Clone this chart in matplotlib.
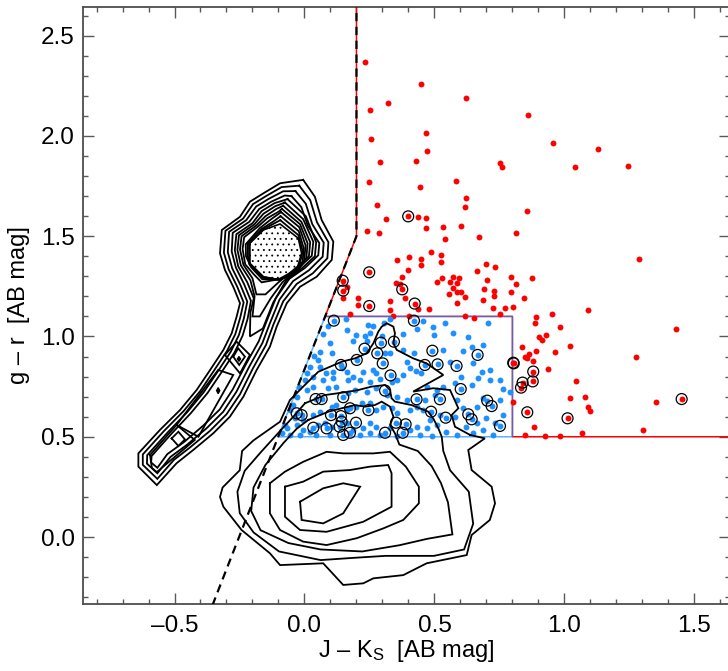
import matplotlib
matplotlib.use("Agg")
import matplotlib.pyplot as plt
from matplotlib.patches import Polygon
from matplotlib.ticker import MultipleLocator, FuncFormatter

plt.rcParams['font.family'] = ['Liberation Sans', 'DejaVu Sans']
plt.rcParams['mathtext.fontset'] = 'custom'
plt.rcParams['mathtext.rm'] = 'Liberation Sans'
plt.rcParams['mathtext.it'] = 'Liberation Sans:italic'
plt.rcParams['lines.scale_dashes'] = False
plt.rcParams['hatch.linewidth'] = 0.6

# colour cuts
cut_x = [0.2, 0.2, -0.36]
cut_y = [2.8, 1.5, -0.36]
red_edge_x = [0.2, 0.2, 0.0795, 0.8, 0.8, 1.8]
red_edge_y = [2.8, 1.5, 1.1, 1.1, 0.5, 0.5]
blue_box_x = [-0.101, 0.0795, 0.8, 0.8, -0.101]
blue_box_y = [0.5, 1.1, 1.1, 0.5, 0.5]

# red selected objects
red_x = [0.233, 0.449, 0.622, 0.321, 0.253, 0.858, 0.257, 0.467, 0.472, 0.292,
         0.429, 0.751, 0.760, 0.957, 1.039, 1.128, 1.245, 0.248, 0.584, 0.443,
         0.278, 0.620, 0.619, 0.857, 0.315, 0.437, 0.469, 0.467, 0.239, 0.288,
         0.533, 0.604, 0.539, 0.671, 0.815, 1.287, 0.485, 0.525, 0.355, 0.403,
         0.447, 0.447, 0.525, 0.397, 0.698, 0.734, 0.663, 0.374, 0.530, 0.571,
         0.595, 0.585, 0.510, 0.558, 0.793, 0.876, 0.703, 0.162, 0.352, 0.367,
         0.385, 0.572, 0.588, 0.601, 0.557, 0.689, 0.730, 0.812, 0.793, 0.617,
         0.688, 0.729, 0.843, 0.147, 0.204, 0.207, 0.330, 0.330, 0.438, 0.478,
         0.585, 0.724, 0.770, 0.804, 0.754, 0.892, 0.952, 1.090, 0.174, 0.342,
         0.403, 0.619, 0.652, 0.886, 0.984, 1.428, 0.901, 0.928, 0.913, 0.835,
         1.021, 0.892, 0.862, 0.847, 0.856, 0.965, 1.275, 0.881, 0.935, 1.043,
         0.803, 1.020, 1.081, 1.089, 1.098, 1.353, 0.883, 1.302, 1.069, 0.849,
         0.924, 0.983]
red_y = [2.367, 2.259, 2.191, 2.166, 2.131, 2.106, 1.983, 2.015, 1.925, 1.872,
         1.874, 1.867, 1.844, 1.967, 1.844, 1.935, 1.851, 1.770, 1.777, 1.746,
         1.656, 1.691, 1.644, 1.626, 1.584, 1.596, 1.589, 1.539, 1.528, 1.518,
         1.544, 1.553, 1.485, 1.495, 1.515, 1.388, 1.423, 1.408, 1.380, 1.397,
         1.385, 1.357, 1.373, 1.333, 1.363, 1.347, 1.327, 1.297, 1.290, 1.295,
         1.293, 1.268, 1.273, 1.273, 1.295, 1.290, 1.283, 1.245, 1.265, 1.262,
         1.192, 1.240, 1.220, 1.220, 1.212, 1.239, 1.227, 1.260, 1.220, 1.197,
         1.182, 1.200, 1.192, 1.194, 1.192, 1.155, 1.175, 1.132, 1.136, 1.136,
         1.165, 1.144, 1.144, 1.146, 1.111, 1.096, 1.114, 1.132, 1.111, 1.102,
         1.102, 1.104, 1.091, 1.067, 1.049, 1.037, 0.999, 1.006, 0.984, 0.946,
         0.954, 0.929, 0.914, 0.899, 0.891, 0.923, 0.898, 0.879, 0.836, 0.778,
         0.673, 0.693, 0.696, 0.647, 0.630, 0.673, 0.549, 0.534, 0.517, 0.507,
         0.504, 0.505]

# blue selected objects
blue_x = [0.159, 0.245, 0.264, 0.305, 0.329, 0.457, 0.495, 0.540, 0.570, 0.630,
          0.707, 0.164, 0.200, 0.232, 0.252, 0.300, 0.380, 0.431, 0.499, 0.688,
          0.098, 0.059, 0.104, 0.188, 0.241, 0.053, 0.021, 0.002, 0.059, 0.082,
          0.111, 0.143, 0.162, 0.188, 0.226, 0.264, 0.277, 0.309, 0.329, 0.380,
          0.393, 0.421, 0.405, 0.429, 0.450, 0.380, 0.335, 0.354, 0.290, 0.252,
          0.213, 0.168, 0.111, 0.072, 0.034, 0.534, 0.559, 0.608, 0.643, 0.681,
          0.713, 0.752, 0.764, 0.713, 0.668, 0.643, 0.604, 0.579, 0.534, 0.508,
          0.470, 0.649, 0.008, 0.034, 0.091, 0.123, 0.168, 0.194, 0.239, 0.277,
          0.316, 0.354, 0.393, 0.463, 0.502, 0.585, 0.611, 0.662, 0.688, 0.752,
          0.764, 0.790, -0.056, -0.037, -0.005, 0.034, 0.059, 0.104, 0.123, 0.162,
          0.200, 0.220, 0.252, 0.277, 0.303, 0.335, 0.354, 0.405, 0.431, 0.457,
          0.482, 0.521, 0.579, 0.623, 0.662, 0.700, 0.732, -0.069, -0.030, -0.005,
          0.021, 0.053, 0.079, 0.104, 0.162, 0.188, 0.226, 0.252, 0.277, 0.329,
          0.405, 0.431, 0.470, 0.508, 0.546, 0.585, 0.649, 0.688, 0.726, -0.088,
          -0.056, -0.018, 0.046, 0.098, 0.213, 0.252, 0.290, 0.354, 0.444, 0.489,
          0.035, 0.070, 0.090, -0.030, -0.020, 0.010, -0.075, -0.045]
blue_y = [1.087, 1.057, 1.052, 1.069, 1.086, 1.079, 1.049, 1.069, 1.016, 0.996,
          1.066, 1.032, 1.007, 1.004, 1.016, 1.002, 1.012, 1.036, 1.007, 0.958,
          0.966, 0.924, 0.919, 0.979, 0.976, 0.883, 0.849, 0.783, 0.849, 0.816,
          0.825, 0.841, 0.825, 0.800, 0.825, 0.833, 0.820, 0.916, 0.916, 0.933,
          0.874, 0.916, 0.841, 0.830, 0.816, 0.808, 0.775, 0.783, 0.786, 0.775,
          0.783, 0.783, 0.791, 0.783, 0.800, 0.933, 0.874, 0.929, 0.949, 0.825,
          0.833, 0.783, 0.736, 0.783, 0.791, 0.758, 0.800, 0.766, 0.750, 0.733,
          0.750, 0.866, 0.733, 0.750, 0.741, 0.750, 0.716, 0.733, 0.725, 0.741,
          0.708, 0.700, 0.683, 0.683, 0.708, 0.683, 0.642, 0.650, 0.692, 0.683,
          0.608, 0.725, 0.633, 0.592, 0.583, 0.608, 0.625, 0.650, 0.658, 0.633,
          0.650, 0.667, 0.667, 0.633, 0.650, 0.642, 0.617, 0.633, 0.650, 0.633,
          0.583, 0.608, 0.600, 0.550, 0.567, 0.592, 0.567, 0.542, 0.559, 0.534,
          0.525, 0.559, 0.567, 0.550, 0.567, 0.534, 0.542, 0.567, 0.550, 0.542,
          0.534, 0.550, 0.542, 0.559, 0.525, 0.509, 0.517, 0.534, 0.509, 0.517,
          0.509, 0.509, 0.509, 0.509, 0.509, 0.517, 0.509, 0.504, 0.509, 0.504,
          0.905, 1.010, 1.050, 0.700, 0.750, 0.820, 0.560, 0.660]

# objects with a counterpart (ringed)
ring_red_x = [0.399, 0.249, 0.147, 0.149, 0.376, 0.249, 0.424, 0.803, 0.805,
              0.880, 0.878, 0.839, 0.833, 1.451, 0.857, 1.012]
ring_red_y = [1.599, 1.320, 1.278, 1.229, 1.235, 1.152, 1.164, 0.869, 0.866,
              0.825, 0.776, 0.770, 0.745, 0.688, 0.622, 0.592]
ring_blue_x = [0.113, 0.421, 0.231, 0.280, 0.301, 0.331, 0.294, 0.344, 0.140, 0.201,
               0.492, 0.666, 0.512, 0.585, 0.463, 0.601, 0.521, 0.431, 0.310, 0.149,
               0.043, 0.066, -0.030, -0.011, 0.246, 0.175, 0.102, 0.140, 0.143, 0.135,
               0.085, 0.198, 0.034, 0.310, 0.352, 0.389, 0.378, 0.149, 0.175, 0.487,
               0.543, 0.630, 0.643, 0.703, 0.720, 0.752]
ring_blue_y = [1.079, 1.079, 0.939, 0.916, 0.866, 0.806, 0.969, 0.974, 0.858, 0.883,
               0.929, 0.908, 0.861, 0.853, 0.858, 0.738, 0.687, 0.687, 0.730, 0.697,
               0.688, 0.688, 0.617, 0.608, 0.633, 0.642, 0.608, 0.603, 0.575, 0.550,
               0.542, 0.570, 0.545, 0.520, 0.570, 0.562, 0.520, 0.509, 0.520, 0.625,
               0.595, 0.612, 0.587, 0.680, 0.653, 0.554]

# galaxy density contours
gal_1 = [(0.637, 0.509), (0.579, 0.550), (0.566, 0.608), (0.592, 0.642), (0.560, 0.733),
         (0.495, 0.742), (0.418, 0.725), (0.534, 0.808), (0.470, 0.866), (0.418, 0.891),
         (0.355, 0.933), (0.342, 0.966), (0.348, 1.016), (0.342, 1.049), (0.316, 1.066),
         (0.297, 1.049), (0.284, 1.024), (0.265, 0.966), (0.239, 0.916), (0.194, 0.891),
         (0.143, 0.874), (0.053, 0.824), (-0.005, 0.750), (-0.056, 0.683), (-0.094, 0.575),
         (-0.196, 0.482), (-0.240, 0.429), (-0.249, 0.333), (-0.315, 0.247), (-0.325, 0.200),
         (-0.312, 0.151), (-0.242, 0.035), (-0.133, -0.081), (-0.094, -0.140), (0.072, -0.131),
         (0.149, -0.239), (0.226, -0.231), (0.265, -0.206), (0.380, -0.190), (0.470, -0.131),
         (0.624, -0.090), (0.643, 0.010), (0.713, 0.085), (0.733, 0.168), (0.720, 0.251),
         (0.643, 0.334), (0.630, 0.434), (0.694, 0.492), (0.637, 0.509)]
gal_2 = [(0.002, 0.667), (0.079, 0.708), (0.156, 0.722), (0.207, 0.733), (0.258, 0.750),
         (0.310, 0.758), (0.329, 0.733), (0.335, 0.692), (0.348, 0.675), (0.412, 0.658),
         (0.476, 0.625), (0.495, 0.592), (0.515, 0.542), (0.528, 0.500), (0.534, 0.429),
         (0.560, 0.333), (0.632, 0.226), (0.649, 0.066), (0.614, -0.062), (0.498, -0.094),
         (0.311, -0.094), (0.187, -0.104), (0.062, -0.115), (-0.098, -0.072), (-0.196, 0.023),
         (-0.249, 0.119), (-0.258, 0.226), (-0.230, 0.330), (-0.170, 0.420), (-0.100, 0.520),
         (-0.043, 0.600), (0.002, 0.667)]
gal_3 = [(0.015, 0.584), (0.092, 0.625), (0.143, 0.642), (0.194, 0.658), (0.233, 0.650),
         (0.271, 0.658), (0.297, 0.675), (0.329, 0.650), (0.342, 0.600), (0.329, 0.559),
         (0.348, 0.517), (0.365, 0.461), (0.436, 0.429), (0.489, 0.354), (0.525, 0.269),
         (0.552, 0.173), (0.569, 0.013), (0.472, -0.009), (0.365, -0.041), (0.222, -0.072),
         (0.062, -0.062), (-0.062, -0.030), (-0.169, 0.034), (-0.205, 0.130), (-0.196, 0.247),
         (-0.150, 0.360), (-0.080, 0.470), (-0.030, 0.540), (0.015, 0.584)]
gal_4 = [(-0.133, 0.268), (-0.133, 0.118), (-0.094, 0.035), (-0.005, -0.023), (0.085, -0.040),
         (0.201, -0.006), (0.303, 0.043), (0.380, 0.085), (0.440, 0.168), (0.440, 0.251),
         (0.390, 0.351), (0.329, 0.425), (0.265, 0.417), (0.149, 0.417), (0.085, 0.425),
         (-0.005, 0.375), (-0.075, 0.326), (-0.133, 0.268)]
gal_5 = [(-0.075, 0.251), (-0.075, 0.101), (-0.017, 0.035), (0.085, 0.026), (0.226, 0.076),
         (0.335, 0.151), (0.335, 0.318), (0.322, 0.359), (0.252, 0.351), (0.175, 0.334),
         (0.072, 0.326), (-0.005, 0.276), (-0.075, 0.251)]
gal_6 = [(-0.017, 0.176), (-0.011, 0.085), (0.072, 0.068), (0.149, 0.118), (0.214, 0.251),
         (0.149, 0.268), (0.072, 0.243), (-0.017, 0.176)]

# stellar locus contours
star_1 = [(-0.005, 1.781), (0.040, 1.697), (0.066, 1.581), (0.111, 1.473), (0.105, 1.382),
          (0.047, 1.298), (-0.017, 1.248), (-0.068, 1.166), (-0.107, 1.049), (-0.133, 0.949),
          (-0.184, 0.833), (-0.235, 0.700), (-0.287, 0.600), (-0.351, 0.517), (-0.428, 0.434),
          (-0.492, 0.368), (-0.568, 0.259), (-0.639, 0.351), (-0.639, 0.417), (-0.556, 0.534),
          (-0.479, 0.633), (-0.415, 0.733), (-0.363, 0.833), (-0.312, 0.933), (-0.280, 1.016),
          (-0.261, 1.099), (-0.248, 1.166), (-0.274, 1.248), (-0.306, 1.332), (-0.325, 1.415),
          (-0.318, 1.531), (-0.248, 1.597), (-0.210, 1.672), (-0.158, 1.714), (-0.094, 1.764),
          (-0.005, 1.781)]
star_2 = [(-0.020, 1.752), (0.022, 1.680), (0.048, 1.570), (0.092, 1.470), (0.088, 1.390),
          (0.032, 1.315), (-0.030, 1.262), (-0.082, 1.175), (-0.120, 1.058), (-0.148, 0.958),
          (-0.198, 0.842), (-0.248, 0.712), (-0.300, 0.612), (-0.363, 0.530), (-0.440, 0.447),
          (-0.502, 0.385), (-0.566, 0.290), (-0.622, 0.360), (-0.622, 0.412), (-0.541, 0.528),
          (-0.465, 0.628), (-0.401, 0.728), (-0.349, 0.828), (-0.298, 0.928), (-0.266, 1.012),
          (-0.247, 1.095), (-0.234, 1.170), (-0.260, 1.252), (-0.292, 1.336), (-0.310, 1.418),
          (-0.304, 1.527), (-0.236, 1.588), (-0.198, 1.660), (-0.148, 1.700), (-0.088, 1.745),
          (-0.020, 1.752)]
star_3 = [(-0.035, 1.725), (0.005, 1.662), (0.030, 1.560), (0.074, 1.468), (0.070, 1.398),
          (0.017, 1.330), (-0.044, 1.276), (-0.096, 1.184), (-0.133, 1.066), (-0.162, 0.967),
          (-0.212, 0.851), (-0.262, 0.724), (-0.313, 0.624), (-0.376, 0.543), (-0.452, 0.460),
          (-0.515, 0.400), (-0.566, 0.318), (-0.606, 0.366), (-0.605, 0.408), (-0.526, 0.522),
          (-0.451, 0.623), (-0.387, 0.723), (-0.335, 0.823), (-0.284, 0.923), (-0.252, 1.008),
          (-0.233, 1.091), (-0.220, 1.174), (-0.246, 1.256), (-0.278, 1.340), (-0.295, 1.421),
          (-0.290, 1.522), (-0.224, 1.580), (-0.186, 1.648), (-0.138, 1.686), (-0.082, 1.724),
          (-0.035, 1.725)]
star_4 = [(-0.050, 1.700), (-0.012, 1.645), (0.013, 1.552), (0.057, 1.466), (0.053, 1.405),
          (0.002, 1.342), (-0.058, 1.288), (-0.110, 1.192), (-0.146, 1.075), (-0.176, 0.976),
          (-0.226, 0.860), (-0.276, 0.736), (-0.326, 0.636), (-0.389, 0.556), (-0.464, 0.473),
          (-0.528, 0.413), (-0.566, 0.345), (-0.590, 0.372), (-0.588, 0.404), (-0.511, 0.516),
          (-0.437, 0.618), (-0.373, 0.718), (-0.321, 0.818), (-0.270, 0.918), (-0.238, 1.004),
          (-0.219, 1.087), (-0.206, 1.178), (-0.232, 1.260), (-0.264, 1.344), (-0.280, 1.424),
          (-0.276, 1.517), (-0.212, 1.572), (-0.174, 1.636), (-0.128, 1.672), (-0.076, 1.703),
          (-0.050, 1.700)]
star_5 = [(-0.065, 1.685), (0.005, 1.600), (0.045, 1.470), (0.040, 1.400), (-0.010, 1.340),
          (-0.070, 1.280), (-0.120, 1.170), (-0.160, 1.040), (-0.210, 1.000), (-0.208, 1.120),
          (-0.195, 1.190), (-0.220, 1.270), (-0.255, 1.350), (-0.268, 1.430), (-0.262, 1.510),
          (-0.200, 1.565), (-0.165, 1.625), (-0.115, 1.665), (-0.065, 1.685)]
star_6 = [(-0.075, 1.668), (-0.005, 1.585), (0.034, 1.472), (0.028, 1.402), (-0.020, 1.345),
          (-0.085, 1.270), (-0.130, 1.190), (-0.172, 1.100), (-0.200, 1.100), (-0.192, 1.200),
          (-0.208, 1.280), (-0.245, 1.355), (-0.258, 1.432), (-0.252, 1.505), (-0.192, 1.560),
          (-0.158, 1.612), (-0.112, 1.650), (-0.075, 1.668)]
star_7 = [(-0.082, 1.652), (-0.012, 1.572), (0.022, 1.470), (0.017, 1.400), (-0.030, 1.345),
          (-0.100, 1.270), (-0.150, 1.210), (-0.185, 1.210), (-0.200, 1.290), (-0.235, 1.358),
          (-0.248, 1.434), (-0.242, 1.500), (-0.184, 1.555), (-0.150, 1.600), (-0.108, 1.636),
          (-0.082, 1.652)]
star_8 = [(-0.087, 1.636), (-0.017, 1.560), (0.012, 1.465), (0.007, 1.390), (-0.035, 1.330),
          (-0.100, 1.285), (-0.165, 1.270), (-0.195, 1.310), (-0.228, 1.360), (-0.238, 1.436),
          (-0.232, 1.495), (-0.177, 1.550), (-0.143, 1.590), (-0.100, 1.622), (-0.087, 1.636)]
star_9 = [(-0.090, 1.620), (-0.020, 1.545), (0.004, 1.455), (-0.001, 1.375), (-0.038, 1.318),
          (-0.098, 1.283), (-0.162, 1.285), (-0.205, 1.345), (-0.225, 1.400), (-0.226, 1.460),
          (-0.172, 1.540), (-0.128, 1.585), (-0.090, 1.620)]
star_10 = [(-0.092, 1.600), (-0.022, 1.525), (-0.003, 1.440), (-0.008, 1.360), (-0.036, 1.310),
           (-0.096, 1.284), (-0.160, 1.292), (-0.209, 1.355), (-0.218, 1.400), (-0.218, 1.465),
           (-0.165, 1.536), (-0.118, 1.575), (-0.092, 1.600)]
star_11 = [(-0.093, 1.580), (-0.023, 1.505), (-0.007, 1.425), (-0.022, 1.340), (-0.094, 1.283),
           (-0.158, 1.296), (-0.212, 1.360), (-0.213, 1.465), (-0.161, 1.533), (-0.093, 1.580)]
star_core = [(-0.094, 1.561), (-0.024, 1.490), (-0.011, 1.415), (-0.030, 1.332), (-0.094, 1.282),
             (-0.158, 1.298), (-0.210, 1.365), (-0.210, 1.465), (-0.158, 1.531), (-0.094, 1.561)]
tail_rect = [(-0.492, 0.559), (-0.332, 0.833), (-0.274, 0.808), (-0.408, 0.500), (-0.492, 0.559)]
tail_low = [(-0.594, 0.409), (-0.587, 0.344), (-0.568, 0.324), (-0.422, 0.484), (-0.492, 0.559),
            (-0.594, 0.409)]
knot_1 = [(-0.306, 0.908), (-0.261, 0.974), (-0.210, 0.908), (-0.248, 0.816), (-0.306, 0.908)]
knot_2 = [(-0.274, 0.899), (-0.255, 0.941), (-0.229, 0.899), (-0.251, 0.858), (-0.274, 0.899)]
knot_3 = [(-0.511, 0.492), (-0.485, 0.525), (-0.460, 0.487), (-0.485, 0.454), (-0.511, 0.492)]
knot_4 = [(-0.258, 0.888), (-0.252, 0.900), (-0.246, 0.888), (-0.252, 0.876), (-0.258, 0.888)]
knot_5 = [(-0.338, 0.730), (-0.332, 0.745), (-0.326, 0.730), (-0.332, 0.715), (-0.338, 0.730)]

contours = [gal_1, gal_2, gal_3, gal_4, gal_5, gal_6,
            star_1, star_2, star_3, star_4, star_5, star_6, star_7, star_8,
            star_9, star_10, star_11, tail_rect, tail_low, knot_1, knot_2, knot_3]
blobs = [knot_4, knot_5]

fig = plt.figure(figsize=(7.28, 6.71), dpi=100)
ax = fig.add_axes([83 / 728, 67 / 671, 646.5 / 728, 597 / 671])

red = '#ff0000'
blue = '#1e90ff'

ax.plot(red_edge_x, red_edge_y, color=red, lw=1.1, zorder=2)
ax.plot(blue_box_x, blue_box_y, color=blue, lw=1.1, alpha=0.7, zorder=2)

ax.scatter(red_x, red_y, s=18, color=red, lw=0, zorder=3)
ax.scatter(ring_red_x, ring_red_y, s=18, color=red, lw=0, zorder=3)
ax.scatter(blue_x, blue_y, s=18, color=blue, lw=0, zorder=3)
ax.scatter(ring_blue_x, ring_blue_y, s=18, color=blue, lw=0, zorder=3)
ax.scatter(ring_red_x + ring_blue_x, ring_red_y + ring_blue_y, s=62,
           facecolors='none', edgecolors='black', lw=0.9, zorder=4)

for c in contours:
    xs, ys = zip(*c)
    ax.plot(xs, ys, color='black', lw=1.3, zorder=5, solid_joinstyle='miter')
for c in blobs:
    ax.add_patch(Polygon(c, closed=True, facecolor='black', edgecolor='black', lw=1, zorder=5))

# dense core drawn as stippling
ax.add_patch(Polygon(star_core, closed=True, facecolor='none', edgecolor='black',
                     hatch='...', lw=1.2, zorder=5))

line, = ax.plot(cut_x, cut_y, color='black', lw=1.6, zorder=6)
line.set_dashes([6, 4])

ax.set_xlim(-0.852, 1.635)
ax.set_ylim(-0.334, 2.643)
ax.xaxis.set_major_locator(MultipleLocator(0.5))
ax.xaxis.set_minor_locator(MultipleLocator(0.1))
ax.yaxis.set_major_locator(MultipleLocator(0.5))
ax.yaxis.set_minor_locator(MultipleLocator(0.1))
fmt = FuncFormatter(lambda v, pos: ('%.1f' % v).replace('-', '\u2013'))
ax.xaxis.set_major_formatter(fmt)
ax.yaxis.set_major_formatter(fmt)

ax.tick_params(which='both', direction='in', top=True, right=True, color='0.35', width=1.0)
ax.tick_params(which='major', length=8, labelsize=17.5)
ax.tick_params(which='minor', length=3.6)
ax.tick_params(axis='x', pad=8)
ax.tick_params(axis='y', pad=6)
for s in ax.spines.values():
    s.set_color('0.3')
    s.set_linewidth(1.3)

ax.set_xlabel('J \u2013 K$_\\mathrm{S}$  [AB mag]', fontsize=17, labelpad=1)
ax.set_ylabel('g \u2013 r  [AB mag]', fontsize=17, labelpad=8)

fig.savefig('out.png', dpi=100)
